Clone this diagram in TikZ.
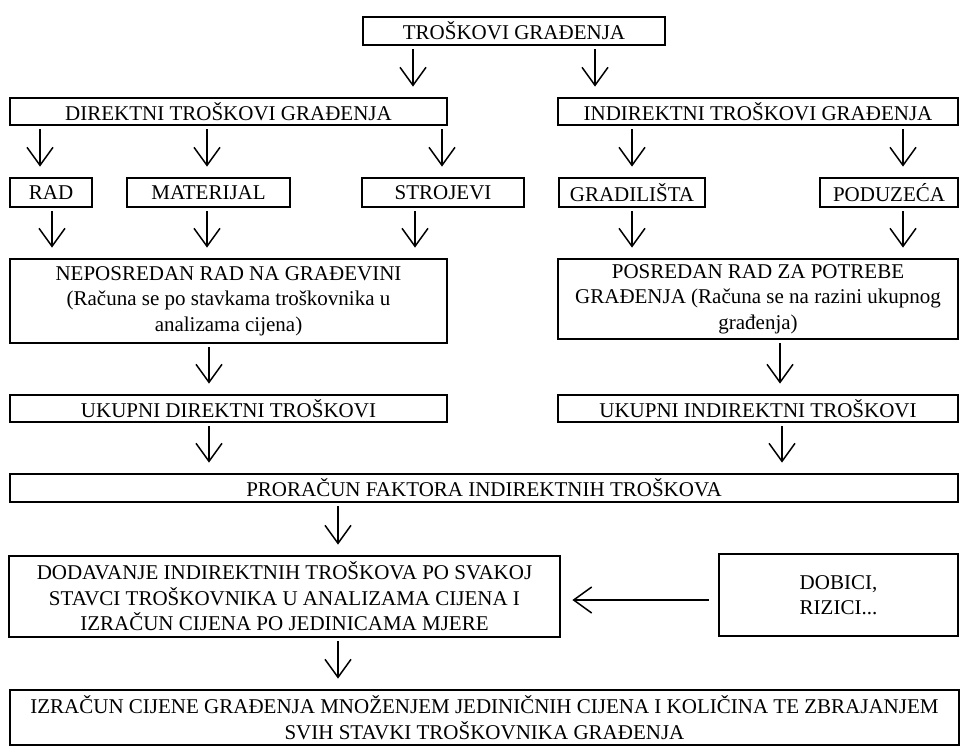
\documentclass[tikz,border=0pt]{standalone}
\usepackage{fontspec}
\setmainfont{Liberation Serif}
\usetikzlibrary{arrows.meta}

\tikzset{
    box/.style={draw=black, line width=2.8pt, inner sep=0pt, align=center,
        font=\fontsize{21}{25.5}\selectfont},
    arr/.style={line width=1.5pt, -{Straight Barb[length=18pt,width=26pt]},
        shorten <=3pt, shorten >=10pt}
}
% box from (x1,y1) to (x2,y2), y downwards
\newcommand{\flowbox}[6][]{%
    \node[box, #1, minimum width={#4-#2}, minimum height={#5-#3}] (#6) at ({(#2+#4)/2},{(#3+#5)/2})}

\begin{document}
\begin{tikzpicture}[x=1pt, y=-1pt]
    \useasboundingbox (0,0) rectangle (961,745);

    \flowbox{363}{17}{665}{45}{top} {TROŠKOVI GRAĐENJA};
    \flowbox{10}{98}{447}{125}{dir} {DIREKTNI TROŠKOVI GRAĐENJA};
    \flowbox{558}{98}{958}{125}{ind} {INDIREKTNI TROŠKOVI GRAĐENJA};

    \flowbox{10}{178}{92}{207}{rad} {RAD};
    \flowbox{127}{178}{290}{207}{mat} {MATERIJAL};
    \flowbox{362}{178}{524}{207}{stroj} {STROJEVI};
    \flowbox{559}{178}{705}{207}{gradil} {GRADILIŠTA};
    \flowbox{820}{178}{958}{207}{poduz} {PODUZEĆA};

    \flowbox{10}{259}{447}{343}{neposr} {NEPOSREDAN RAD NA GRAĐEVINI\\(Računa se po stavkama troškovnika u\\analizama cijena)};
    \flowbox{558}{259}{958}{339}{posr} {POSREDAN RAD ZA POTREBE\\GRAĐENJA (Računa se na razini ukupnog\\građenja)};

    \flowbox{10}{395}{447}{422}{ukdir} {UKUPNI DIREKTNI TROŠKOVI};
    \flowbox{558}{395}{958}{422}{ukind} {UKUPNI INDIREKTNI TROŠKOVI};

    \flowbox{10}{474}{958}{502}{faktor} {PRORAČUN FAKTORA INDIREKTNIH TROŠKOVA};

    \flowbox{9}{556}{560}{637}{dodav} {DODAVANJE INDIREKTNIH TROŠKOVA PO SVAKOJ\\STAVCI TROŠKOVNIKA U ANALIZAMA CIJENA I\\IZRAČUN CIJENA PO JEDINICAMA MJERE};
    \flowbox[align=left]{719}{554}{958}{636}{dobici} {DOBICI,\\RIZICI...};

    \flowbox{10}{690}{959}{745}{izracun} {IZRAČUN CIJENE GRAĐENJA MNOŽENJEM JEDINIČNIH CIJENA I KOLIČINA TE ZBRAJANJEM\\SVIH STAVKI TROŠKOVNIKA GRAĐENJA};

    \foreach \a/\b/\x in {top/dir/413, top/ind/595,
        dir/rad/40, dir/mat/207, dir/stroj/442, ind/gradil/632, ind/poduz/903,
        rad/neposr/52, mat/neposr/207, stroj/neposr/415, gradil/posr/632, poduz/posr/903,
        neposr/ukdir/209, posr/ukind/780, ukdir/faktor/209, ukind/faktor/782,
        faktor/dodav/338, dodav/izracun/338}
        \draw[arr] (\a.south -| \x,0) -- (\b.north -| \x,0);

    \draw[arr, shorten <=9pt, shorten >=11pt] (dobici.west |- 0,600) -- (dodav.east |- 0,600);
\end{tikzpicture}
\end{document}
